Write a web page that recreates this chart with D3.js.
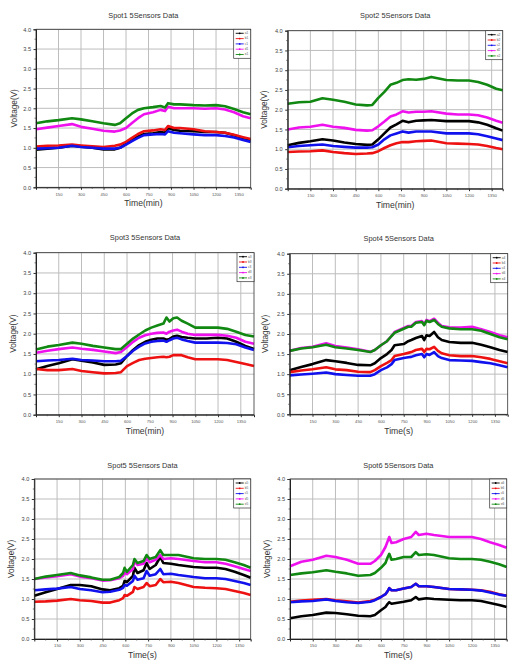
<!DOCTYPE html>
<html><head><meta charset="utf-8">
<script src="https://d3js.org/d3.v7.min.js"></script>
<style>body{margin:0;background:#fff}svg{display:block}</style>
</head><body>
<script>
// ---------- data ----------
const seriesNames = ["a","b","c","d","e"];
const xTicks = [150,300,450,600,750,900,1050,1200,1350];
const yTicks = [0,0.5,1.0,1.5,2.0,2.5,3.0,3.5,4.0];
const titles = ["Spot1 5Sensors Data","Spot2 5Sensors Data","Spot3 5Sensors Data","Spot4 5Sensors Data","Spot5 5Sensors Data","Spot6 5Sensors Data"];
const xLabels = ["Time(min)","Time(min)","Time(min)","Time(s)","Time(s)","Time(s)"];

const t1 = [0,75,150,240,300,375,450,525,560,600,640,680,720,780,830,860,880,920,960,1050,1125,1200,1260,1320,1380,1431];
const sA1 = [0.95,0.98,1.0,1.05,1.03,1.0,0.96,0.96,1.0,1.1,1.2,1.28,1.35,1.37,1.4,1.38,1.5,1.45,1.43,1.42,1.4,1.4,1.38,1.32,1.25,1.2];
const sB1 = [1.03,1.05,1.06,1.08,1.06,1.04,1.02,1.05,1.08,1.15,1.25,1.35,1.42,1.44,1.47,1.45,1.55,1.5,1.5,1.47,1.42,1.4,1.38,1.33,1.27,1.22];
const sC1 = [0.98,0.99,1.0,1.05,1.02,1.0,0.98,0.98,1.0,1.08,1.17,1.25,1.32,1.34,1.35,1.34,1.42,1.38,1.37,1.34,1.32,1.32,1.3,1.26,1.2,1.15];
const sD1 = [1.47,1.51,1.55,1.6,1.53,1.48,1.43,1.41,1.44,1.5,1.63,1.75,1.85,1.9,1.96,1.93,2.04,2.0,2.0,2.0,1.99,2.0,1.97,1.9,1.8,1.75];
const sE1 = [1.62,1.67,1.7,1.75,1.72,1.67,1.62,1.58,1.62,1.75,1.87,1.96,2.0,2.03,2.06,2.02,2.13,2.1,2.1,2.08,2.07,2.08,2.05,1.98,1.9,1.85];

const t2 = [0,75,150,230,300,375,450,525,560,600,640,680,720,760,800,850,900,950,1050,1125,1200,1260,1320,1380,1423];
const sA2 = [1.1,1.16,1.2,1.25,1.22,1.17,1.13,1.11,1.12,1.25,1.4,1.55,1.63,1.72,1.68,1.72,1.73,1.74,1.71,1.71,1.71,1.68,1.62,1.53,1.47];
const sB2 = [0.93,0.94,0.95,0.97,0.93,0.9,0.88,0.89,0.9,0.95,1.03,1.1,1.15,1.18,1.18,1.2,1.21,1.22,1.15,1.14,1.13,1.12,1.08,1.03,1.0];
const sC2 = [1.05,1.08,1.1,1.12,1.08,1.06,1.04,1.04,1.05,1.12,1.25,1.35,1.4,1.45,1.42,1.45,1.45,1.45,1.4,1.4,1.4,1.38,1.33,1.27,1.23];
const sD2 = [1.5,1.55,1.57,1.62,1.57,1.54,1.49,1.47,1.48,1.58,1.7,1.83,1.88,1.96,1.93,1.95,1.95,1.96,1.9,1.88,1.88,1.86,1.8,1.72,1.67];
const sE2 = [2.15,2.19,2.2,2.29,2.25,2.2,2.13,2.11,2.12,2.3,2.45,2.63,2.68,2.75,2.77,2.76,2.78,2.83,2.75,2.74,2.74,2.7,2.63,2.53,2.49];

const t3 = [0,75,150,240,300,375,450,525,560,600,640,680,720,760,800,840,860,880,905,930,960,1000,1050,1125,1200,1260,1320,1380,1437];
const sA3 = [1.12,1.2,1.27,1.37,1.33,1.29,1.23,1.24,1.27,1.45,1.6,1.72,1.8,1.85,1.88,1.88,1.85,1.87,1.93,1.95,1.92,1.9,1.88,1.88,1.9,1.88,1.8,1.7,1.62];
const sB3 = [1.13,1.1,1.1,1.13,1.08,1.05,1.02,1.03,1.05,1.2,1.28,1.35,1.38,1.4,1.42,1.43,1.42,1.43,1.47,1.47,1.47,1.42,1.37,1.37,1.37,1.35,1.3,1.25,1.2];
const sC3 = [1.32,1.34,1.35,1.38,1.35,1.34,1.32,1.32,1.33,1.45,1.58,1.68,1.76,1.8,1.82,1.83,1.8,1.84,1.88,1.9,1.86,1.82,1.78,1.78,1.78,1.77,1.74,1.66,1.6];
const sD3 = [1.53,1.58,1.62,1.66,1.63,1.6,1.56,1.52,1.55,1.67,1.8,1.9,1.96,2.0,2.02,2.03,2.0,2.05,2.08,2.1,2.05,2.0,1.97,1.97,1.97,1.95,1.9,1.8,1.75];
const sE3 = [1.61,1.68,1.72,1.78,1.75,1.7,1.66,1.62,1.62,1.75,1.88,1.98,2.08,2.15,2.2,2.25,2.4,2.3,2.38,2.4,2.32,2.25,2.15,2.15,2.15,2.12,2.05,1.97,1.93];

const t4 = [0,75,150,240,300,375,450,530,560,600,640,670,690,750,780,800,830,870,885,900,920,950,975,1000,1050,1125,1200,1260,1320,1380,1434];
const sA4 = [1.1,1.18,1.25,1.35,1.32,1.28,1.23,1.22,1.27,1.4,1.5,1.6,1.72,1.75,1.82,1.85,1.9,1.95,1.85,1.97,1.95,2.05,1.92,1.85,1.8,1.78,1.78,1.73,1.67,1.6,1.55];
const sB4 = [1.05,1.09,1.12,1.17,1.12,1.1,1.06,1.05,1.1,1.2,1.28,1.35,1.45,1.5,1.53,1.55,1.6,1.63,1.55,1.63,1.62,1.68,1.58,1.52,1.47,1.45,1.45,1.42,1.38,1.32,1.27];
const sC4 = [0.97,0.99,1.01,1.04,1.0,0.98,0.96,0.96,1.0,1.1,1.17,1.25,1.35,1.4,1.42,1.43,1.47,1.5,1.42,1.5,1.48,1.55,1.45,1.4,1.35,1.34,1.33,1.3,1.27,1.22,1.17];
const sD4 = [1.58,1.65,1.68,1.77,1.7,1.66,1.62,1.56,1.6,1.72,1.82,1.95,2.05,2.15,2.2,2.2,2.3,2.32,2.25,2.35,2.32,2.38,2.28,2.2,2.17,2.16,2.18,2.12,2.05,1.97,1.92];
const sE4 = [1.58,1.64,1.67,1.73,1.67,1.64,1.6,1.55,1.6,1.72,1.82,1.95,2.03,2.13,2.18,2.18,2.28,2.3,2.22,2.33,2.3,2.35,2.25,2.18,2.14,2.12,2.12,2.08,2.0,1.92,1.87];

const t5 = [0,75,150,240,300,375,450,500,560,585,595,610,650,660,680,720,740,760,800,830,850,900,950,1050,1125,1200,1260,1320,1380,1426];
const sA5 = [1.08,1.17,1.25,1.35,1.35,1.32,1.24,1.22,1.27,1.33,1.45,1.42,1.58,1.78,1.65,1.72,1.9,1.75,1.85,2.05,1.9,1.88,1.85,1.8,1.78,1.78,1.75,1.68,1.6,1.53];
const sB5 = [0.93,0.94,0.96,1.0,0.97,0.95,0.91,0.91,0.97,1.02,1.1,1.08,1.18,1.3,1.25,1.3,1.4,1.32,1.35,1.5,1.42,1.43,1.4,1.3,1.28,1.27,1.25,1.2,1.15,1.1];
const sC5 = [1.22,1.24,1.26,1.3,1.25,1.22,1.17,1.18,1.23,1.28,1.35,1.33,1.45,1.58,1.48,1.52,1.7,1.58,1.62,1.75,1.62,1.63,1.6,1.55,1.52,1.52,1.5,1.45,1.4,1.35];
const sD5 = [1.5,1.54,1.57,1.62,1.56,1.52,1.46,1.47,1.52,1.58,1.65,1.62,1.75,1.95,1.85,1.88,2.02,1.92,1.98,2.1,2.0,2.02,2.0,1.95,1.92,1.92,1.88,1.82,1.75,1.7];
const sE5 = [1.5,1.56,1.6,1.65,1.59,1.54,1.48,1.48,1.55,1.65,1.78,1.68,1.85,2.0,1.9,1.95,2.1,2.0,2.05,2.22,2.1,2.1,2.1,2.02,2.0,2.0,1.98,1.92,1.85,1.78];

const t6 = [0,75,150,240,300,375,450,530,560,600,630,645,655,670,700,750,800,830,850,900,950,1050,1125,1200,1260,1320,1380,1430];
const sA6 = [0.52,0.57,0.6,0.66,0.65,0.62,0.58,0.57,0.6,0.72,0.8,0.88,0.92,0.88,0.9,0.93,0.97,1.05,0.99,1.02,1.0,0.98,0.97,0.97,0.95,0.9,0.85,0.8];
const sB6 = [0.93,0.96,0.98,1.0,0.97,0.94,0.91,0.95,0.98,1.05,1.12,1.2,1.27,1.22,1.22,1.26,1.3,1.38,1.32,1.32,1.3,1.25,1.24,1.23,1.22,1.18,1.12,1.08];
const sC6 = [0.92,0.94,0.95,0.99,0.95,0.92,0.9,0.93,0.97,1.05,1.12,1.2,1.27,1.22,1.22,1.26,1.3,1.38,1.32,1.32,1.3,1.25,1.24,1.23,1.21,1.16,1.11,1.08];
const sD6 = [1.82,1.93,1.98,2.08,2.05,1.98,1.88,1.88,1.95,2.1,2.3,2.45,2.55,2.4,2.42,2.5,2.55,2.68,2.6,2.63,2.6,2.55,2.55,2.55,2.5,2.42,2.35,2.28];
const sE6 = [1.6,1.64,1.67,1.72,1.68,1.64,1.58,1.6,1.65,1.78,1.9,2.05,2.13,1.98,2.0,2.05,2.05,2.17,2.1,2.12,2.1,2.02,2.0,2.0,1.98,1.93,1.87,1.8];

const panelTimes = [t1,t2,t3,t4,t5,t6];
const panelSeries = [[sA1,sB1,sC1,sD1,sE1],[sA2,sB2,sC2,sD2,sE2],[sA3,sB3,sC3,sD3,sE3],[sA4,sB4,sC4,sD4,sE4],[sA5,sB5,sC5,sD5,sE5],[sA6,sB6,sC6,sD6,sE6]];

// ---------- layout / style ----------
const colors = ["#000000","#ee1111","#1111ee","#ee11ee","#118811"];
const layout = [
  {l:36,   r:250.7, t:29.3,  b:187.3, xmax:1431, ty:15.7,  xl:204,   yl:15},
  {l:287.7,r:502.7, t:30.7,  b:188.7, xmax:1423, ty:15.7,  xl:205.3, yl:265},
  {l:36,   r:254,   t:252.7, b:414.7, xmax:1437, ty:237.7, xl:431.3, yl:14},
  {l:289.7,r:507.7, t:253.7, b:414.3, xmax:1434, ty:239.3, xl:431.3, yl:266},
  {l:34.3, r:250.7, t:479,   b:639,   xmax:1426, ty:466,   xl:656,   yl:12},
  {l:290,  r:506.7, t:479,   b:639,   xmax:1430, ty:466,   xl:656,   yl:268}
];

const svg = d3.select("body").append("svg").attr("width",523).attr("height",667)
  .style("font-family","'Liberation Sans', Arial, sans-serif");

layout.forEach((L,pi)=>{
  const x = d3.scaleLinear().domain([0,L.xmax]).range([L.l,L.r]);
  const y = d3.scaleLinear().domain([0,4]).range([L.b,L.t]);
  const g = svg.append("g");

  // grid
  g.selectAll(".vg").data(xTicks).join("line")
    .attr("x1",d=>x(d)).attr("x2",d=>x(d)).attr("y1",L.t).attr("y2",L.b)
    .attr("stroke","#bdbdbd").attr("stroke-width",1);
  g.selectAll(".hg").data(yTicks.slice(1)).join("line")
    .attr("x1",L.l).attr("x2",L.r).attr("y1",d=>y(d)).attr("y2",d=>y(d))
    .attr("stroke","#bdbdbd").attr("stroke-width",1);

  // series
  const times = panelTimes[pi];
  panelSeries[pi].forEach((vals,si)=>{
    const line = d3.line().x((d,i)=>x(times[i])).y(d=>y(d));
    g.append("path").datum(vals).attr("d",line).attr("fill","none")
      .attr("stroke",colors[si]).attr("stroke-width",2.6).attr("stroke-linejoin","round");
  });

  // frame
  g.append("rect").attr("x",L.l).attr("y",L.t).attr("width",L.r-L.l).attr("height",L.b-L.t)
    .attr("fill","none").attr("stroke","#333").attr("stroke-width",0.8);

  // axes
  const xAxis = d3.axisBottom(x).tickValues(xTicks).tickSize(2.5).tickPadding(3).tickFormat(d3.format("d"));
  const xa = g.append("g").attr("transform",`translate(0,${L.b})`).call(xAxis);
  xa.select(".domain").attr("stroke","#222");
  xa.selectAll(".tick line").attr("stroke","#333");
  xa.selectAll("text").attr("font-size",4.2).attr("fill","#555");
  const xMinor = d3.range(75,L.xmax,150);
  g.selectAll(".xm").data(xMinor).join("line")
    .attr("x1",d=>x(d)).attr("x2",d=>x(d)).attr("y1",L.b).attr("y2",L.b+1.5).attr("stroke","#444").attr("stroke-width",0.7);

  const yAxis = d3.axisLeft(y).tickValues(yTicks).tickSize(2.5).tickPadding(2.5).tickFormat(d3.format(".1f"));
  const ya = g.append("g").attr("transform",`translate(${L.l},0)`).call(yAxis);
  ya.select(".domain").attr("stroke","#222");
  ya.selectAll(".tick line").attr("stroke","#333");
  ya.selectAll("text").attr("font-size",5.6).attr("fill","#444");
  const yMinor = d3.range(0.25,4,0.5);
  g.selectAll(".ym").data(yMinor).join("line")
    .attr("x1",L.l-1.5).attr("x2",L.l).attr("y1",d=>y(d)).attr("y2",d=>y(d)).attr("stroke","#444").attr("stroke-width",0.7);

  // texts
  g.append("text").attr("x",(L.l+L.r)/2).attr("y",L.ty).attr("text-anchor","middle")
    .attr("dominant-baseline","middle").attr("font-size",7.4).attr("fill","#333").text(titles[pi]);
  g.append("text").attr("x",(L.l+L.r)/2).attr("y",L.xl).attr("text-anchor","middle")
    .attr("dominant-baseline","middle").attr("font-size",8.6).attr("fill","#333").text(xLabels[pi]);
  g.append("text").attr("transform",`translate(${L.yl},${(L.t+L.b)/2}) rotate(-90)`).attr("text-anchor","middle")
    .attr("dominant-baseline","middle").attr("font-size",8.2).attr("fill","#333").text("Voltage(V)");

  // legend
  const lw = 17, lh = 29;
  const lg = g.append("g").attr("transform",`translate(${L.r-lw},${L.t})`);
  lg.append("rect").attr("width",lw).attr("height",lh).attr("fill","#fff").attr("stroke","#333").attr("stroke-width",0.7);
  seriesNames.forEach((n,si)=>{
    const yy = 4 + si*5.3;
    lg.append("line").attr("x1",2).attr("x2",10).attr("y1",yy).attr("y2",yy).attr("stroke",colors[si]).attr("stroke-width",0.9);
    lg.append("circle").attr("cx",6).attr("cy",yy).attr("r",0.9).attr("fill",colors[si]);
    lg.append("text").attr("x",11).attr("y",yy).attr("dominant-baseline","middle").attr("font-size",3.2).attr("fill","#555").text(n+(pi+1));
  });
});
</script>
</body></html>
